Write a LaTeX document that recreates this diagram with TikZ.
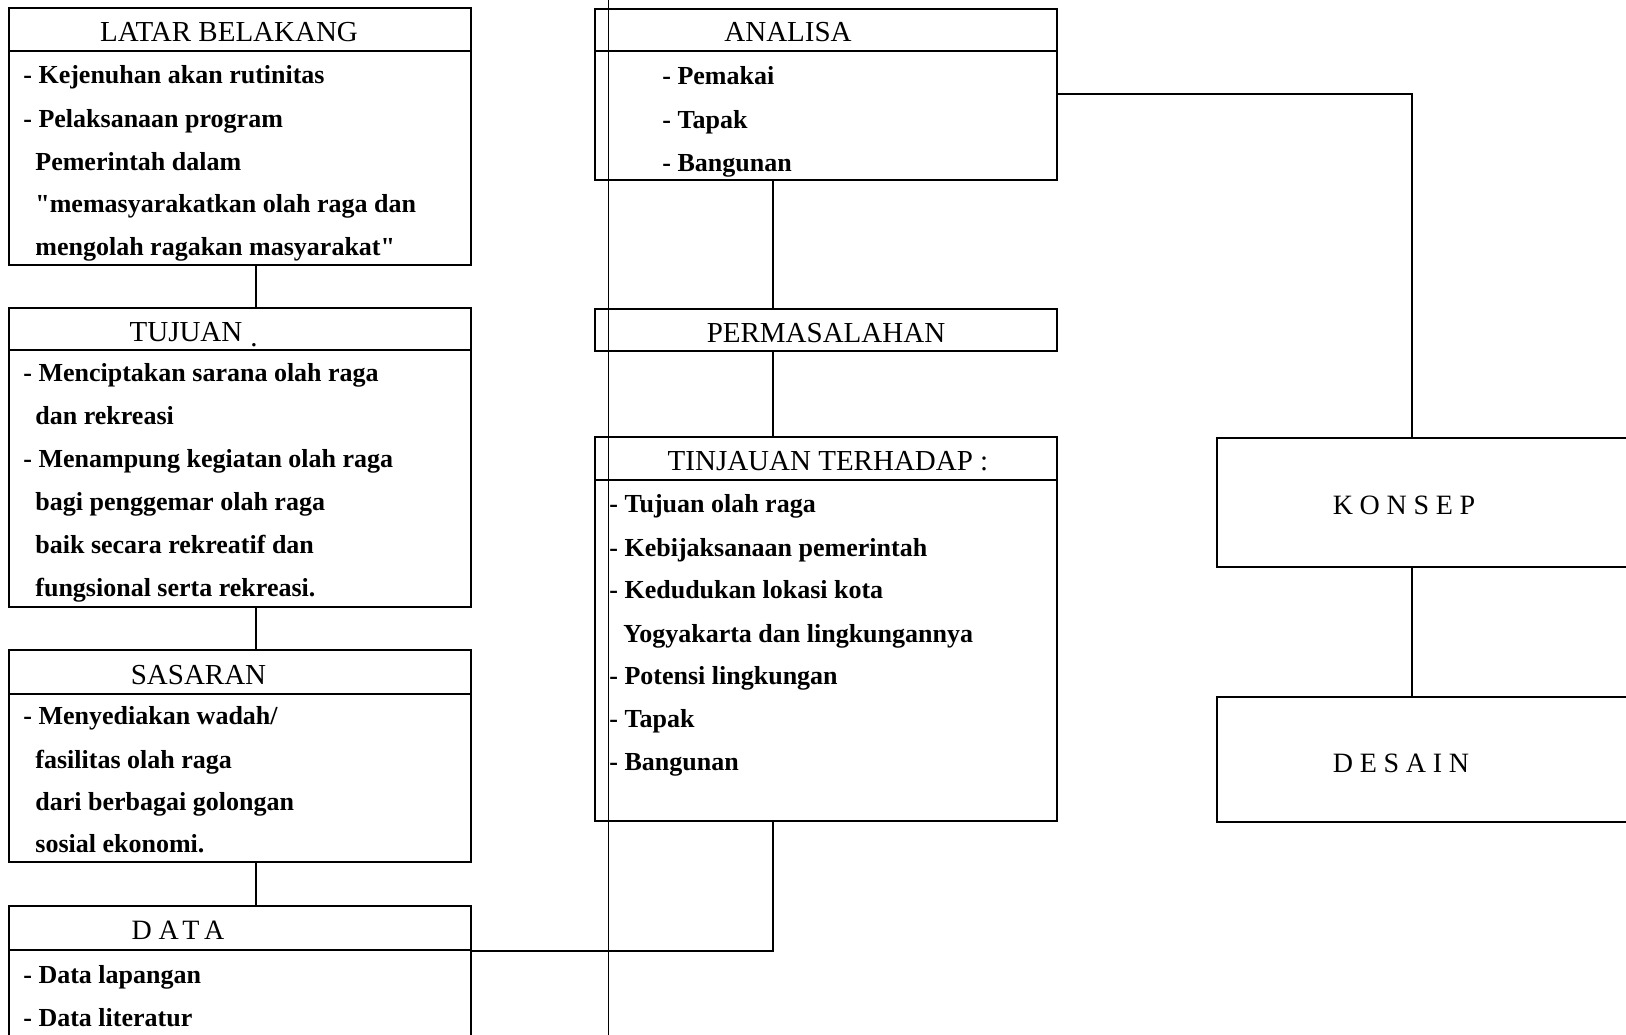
\documentclass[tikz,border=0pt]{standalone}
\usepackage{fontspec}
\setmainfont{Liberation Serif}[Ligatures=TeXOff]
\begin{document}
\begin{tikzpicture}[x=0.5pt,y=-0.5pt,
  box/.style={draw, line width=1pt, inner sep=0pt, anchor=north west},
  ttl/.style={font=\fontsize{14.5}{16}\selectfont, anchor=base, inner sep=0pt},
  wide/.style={font=\fontsize{14}{16}\selectfont\addfontfeature{LetterSpace=24}, anchor=base, inner sep=0pt},
  itm/.style={font=\bfseries\fontsize{13}{15}\selectfont, anchor=base west, inner sep=0pt},
  link/.style={line width=0.8pt},
  fold/.style={line width=0.5pt}]
\useasboundingbox (0,0) rectangle (1626,1034);
\clip (0,0) rectangle (1626,1034);

% boxes
\node[box, minimum width=231pt, minimum height=21.5pt] (lbT) at (8,7) {};
\node[box, minimum width=231pt, minimum height=107pt] (lbB) at (8,50) {};
\node[box, minimum width=231pt, minimum height=21pt] (tujT) at (8,307) {};
\node[box, minimum width=231pt, minimum height=128.5pt] (tujB) at (8,349) {};
\node[box, minimum width=231pt, minimum height=22pt] (sasT) at (8,649) {};
\node[box, minimum width=231pt, minimum height=84pt] (sasB) at (8,693) {};
\node[box, minimum width=231pt, minimum height=22pt] (datT) at (8,905) {};
\node[box, minimum width=231pt, minimum height=60pt] (datB) at (8,949) {};

\node[box, minimum width=231pt, minimum height=21pt] (anaT) at (594,8) {};
\node[box, minimum width=231pt, minimum height=64.5pt] (anaB) at (594,50) {};
\node[box, minimum width=231pt, minimum height=21pt] (perm) at (594,308) {};
\node[box, minimum width=231pt, minimum height=21.5pt] (tinT) at (594,436) {};
\node[box, minimum width=231pt, minimum height=170.5pt] (tinB) at (594,479) {};

\node[box, minimum width=212pt, minimum height=64.5pt] (kon) at (1216,437) {};
\node[box, minimum width=212pt, minimum height=62.5pt] (des) at (1216,696) {};

% helper coordinates
\coordinate (cL) at (256,0);
\coordinate (cM) at (773,0);
\coordinate (cR) at (1412,0);
\coordinate (ky) at (0,94);
\coordinate (vt) at (608,-5);
\coordinate (vb) at (608,1040);

% connectors
\draw[link] (lbB.south -| cL) -- (tujT.north -| cL);
\draw[link] (tujB.south -| cL) -- (sasT.north -| cL);
\draw[link] (sasB.south -| cL) -- (datT.north -| cL);
\draw[link] (datT.south east) -| (tinB.south -| cM);
\draw[link] (anaB.south -| cM) -- (perm.north -| cM);
\draw[link] (perm.south -| cM) -- (tinT.north -| cM);
\draw[link] (anaB.east |- ky) -| (kon.north -| cR);
\draw[link] (kon.south -| cR) -- (des.north -| cR);
\draw[fold] (vt) -- (vb);

% titles
\node[ttl] (lbt) at (229,41) {LATAR BELAKANG};
\node[ttl] (tujt) at (186,341) {TUJUAN};
\node[ttl] (tujdot) at (254,346) {.};
\node[ttl] (sast) at (198.5,684) {SASARAN};
\node[wide] (datt) at (178,939) {DATA};
\node[ttl] (anat) at (788,41) {ANALISA};
\node[ttl] (permt) at (826,342) {PERMASALAHAN};
\node[ttl] (tint) at (828,470) {TINJAUAN TERHADAP :};
\node[wide] (kont) at (1404,514) {KONSEP};
\node[wide] (dest) at (1401,772) {DESAIN};

% latar belakang items
\node[itm] (lb1) at (23,83.5) {- Kejenuhan akan rutinitas};
\node[itm] (lb2) at (23,127.5) {- Pelaksanaan program};
\node[itm] (lb3) at (35,170.5) {Pemerintah dalam};
\node[itm] (lb4) at (35,212.5) {"memasyarakatkan olah raga dan};
\node[itm] (lb5) at (35,255.5) {mengolah ragakan masyarakat"};

% tujuan items
\node[itm] (tu1) at (23,381.5) {- Menciptakan sarana olah raga};
\node[itm] (tu2) at (35,424.5) {dan rekreasi};
\node[itm] (tu3) at (23,467.5) {- Menampung kegiatan olah raga};
\node[itm] (tu4) at (35,510.5) {bagi penggemar olah raga};
\node[itm] (tu5) at (35,553.5) {baik secara rekreatif dan};
\node[itm] (tu6) at (35,596.5) {fungsional serta rekreasi.};

% sasaran items
\node[itm] (sa1) at (23,724) {- Menyediakan wadah/};
\node[itm] (sa2) at (35,768.5) {fasilitas olah raga};
\node[itm] (sa3) at (35,810) {dari berbagai golongan};
\node[itm] (sa4) at (35,852.5) {sosial ekonomi.};

% data items
\node[itm] (da1) at (23,983.5) {- Data lapangan};
\node[itm] (da2) at (23,1026.5) {- Data literatur};

% analisa items
\node[itm] (an1) at (662,84.5) {- Pemakai};
\node[itm] (an2) at (662,128.5) {- Tapak};
\node[itm] (an3) at (662,171.5) {- Bangunan};

% tinjauan items
\node[itm] (ti1) at (609,512.5) {- Tujuan olah raga};
\node[itm] (ti2) at (609,556) {- Kebijaksanaan pemerintah};
\node[itm] (ti3) at (609,598.5) {- Kedudukan lokasi kota};
\node[itm] (ti4) at (623,642) {Yogyakarta dan lingkungannya};
\node[itm] (ti5) at (609,684.5) {- Potensi lingkungan};
\node[itm] (ti6) at (609,727) {- Tapak};
\node[itm] (ti7) at (609,770.5) {- Bangunan};
\end{tikzpicture}
\end{document}
